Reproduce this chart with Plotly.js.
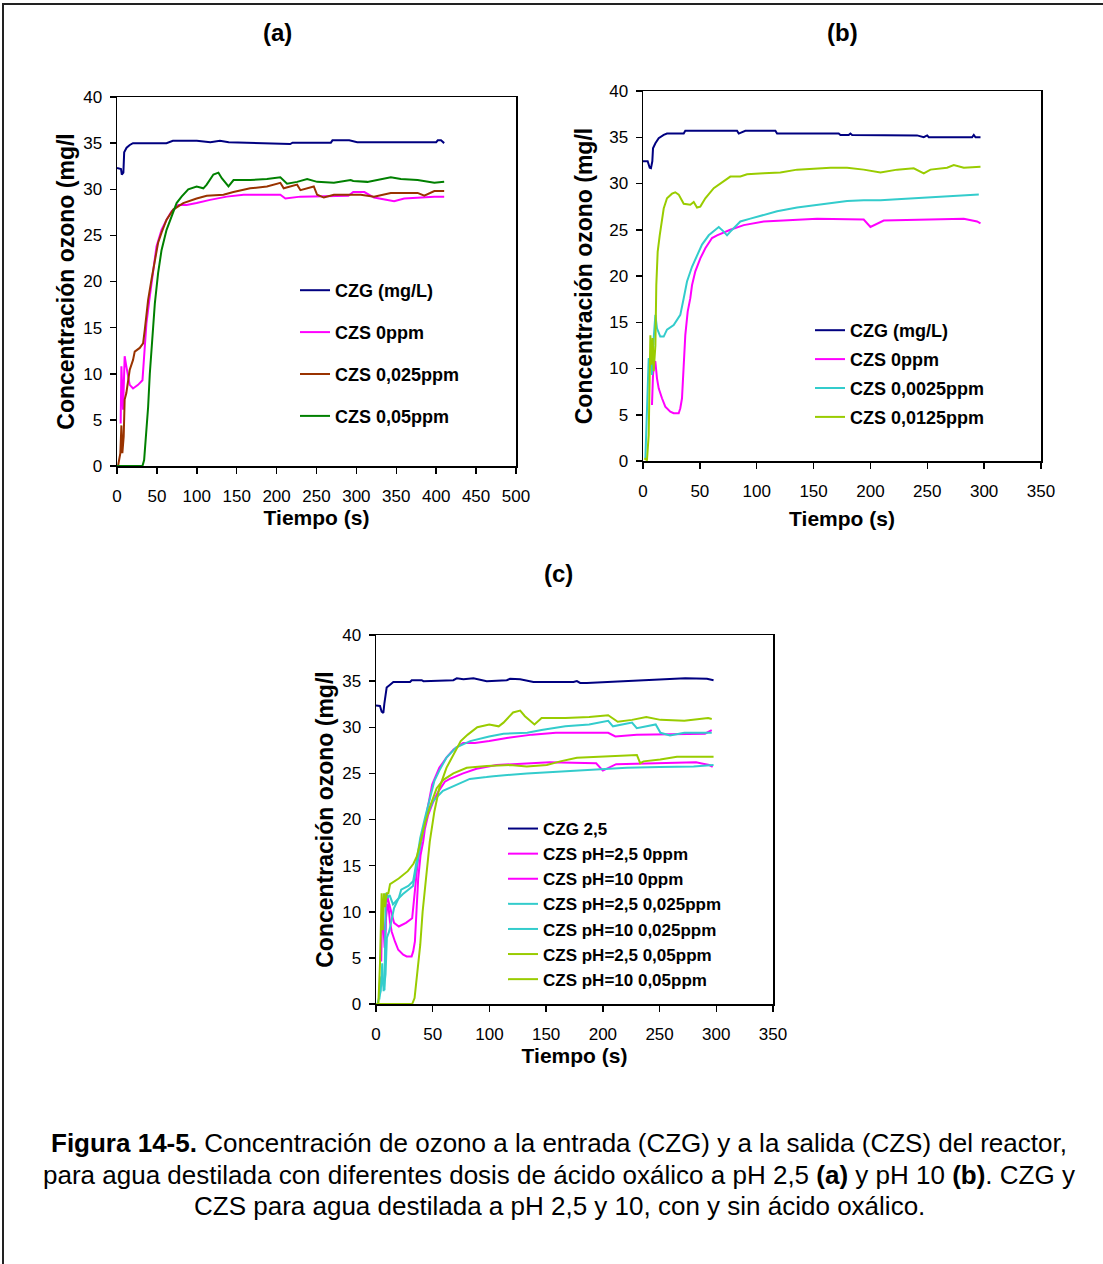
<!DOCTYPE html>
<html>
<head>
<meta charset="utf-8">
<script src="https://cdn.plot.ly/plotly-3.0.1.min.js"></script>
<style>
html,body{margin:0;padding:0;background:#fff;}
#chart{width:1103px;height:1264px;}
</style>
</head>
<body>
<div id="chart"></div>
<script>
// ---------------- DATA ----------------
// Panel (a): pH 2,5
const a_czg_t = [0, 5, 6, 8, 9, 12, 16, 20, 62, 70, 100, 117, 129, 140, 217, 220, 268, 270, 291, 301, 400, 402, 406, 410];
const a_czg_c = [32.3, 32.2, 31.6, 31.8, 34.0, 34.5, 34.8, 35.0, 35.0, 35.25, 35.25, 35.1, 35.25, 35.1, 34.9, 35.05, 35.05, 35.3, 35.3, 35.1, 35.1, 35.3, 35.3, 35.0];

const a_0_t = [4.6, 5.5, 7.6, 9.6, 11.7, 13.8, 15.9, 20.1, 26.4, 31.9, 34.8, 36.9, 41.1, 45.3, 49.5, 55.8, 62.1, 68.4, 76.8, 87.2, 99.8, 116.6, 137.6, 158.6, 204.7, 211, 229.9, 290, 296, 310, 322.1, 347.3, 359.9, 397.7, 410];
const a_0_c = [4.6, 10.8, 6.1, 11.9, 10.8, 9.7, 8.8, 8.4, 8.8, 9.3, 12.9, 15.5, 18.4, 21.3, 23.8, 25.6, 26.7, 27.6, 28.3, 28.3, 28.5, 28.85, 29.2, 29.4, 29.4, 29.0, 29.2, 29.3, 29.7, 29.7, 29.1, 28.7, 29.0, 29.2, 29.2];

const a_025_t = [1.3, 4.2, 5.5, 6.7, 8.4, 9.6, 11.7, 15.9, 20.1, 22.2, 28.5, 32.7, 34.8, 39.0, 43.2, 47.4, 51.5, 55.8, 62.1, 70.5, 83.0, 99.8, 112.4, 133.4, 145.9, 166.9, 187.9, 204.7, 208.9, 225.7, 229.9, 246.6, 250.8, 259.2, 271.8, 296, 305.4, 322.1, 343.1, 376.7, 385.1, 397.7, 410];
const a_025_c = [0, 1.4, 4.4, 1.4, 3.2, 7.2, 7.9, 10.4, 11.5, 12.4, 12.8, 13.3, 14.75, 18.0, 20.2, 22.3, 24.2, 25.3, 26.7, 27.8, 28.5, 29.0, 29.3, 29.4, 29.7, 30.1, 30.3, 30.7, 30.1, 30.5, 29.9, 30.3, 29.4, 29.1, 29.4, 29.4, 29.4, 29.2, 29.6, 29.6, 29.3, 29.8, 29.8];

const a_05_t = [0, 31.9, 34.0, 36.1, 39.0, 41.1, 44.5, 47.4, 51.5, 55.8, 62.1, 68.4, 74.7, 80.9, 89.3, 99.8, 108.2, 112.4, 120.8, 127.1, 131.3, 139.7, 146.0, 166.9, 187.9, 204.7, 213.1, 225.7, 238.3, 250.8, 271.8, 292.8, 296, 313.8, 343.1, 355.7, 376.7, 397.7, 410];
const a_05_c = [0, 0, 0.65, 2.8, 6.4, 10.0, 14.0, 17.6, 20.9, 23.4, 25.6, 27.0, 28.5, 29.2, 30.0, 30.3, 30.1, 30.5, 31.6, 31.8, 31.2, 30.3, 31.0, 31.0, 31.1, 31.3, 30.6, 30.8, 31.1, 30.8, 30.7, 31.0, 30.9, 30.8, 31.3, 31.1, 31.0, 30.7, 30.8];

// Panel (b): pH 10
const b_czg_t = [0, 4.1, 5.9, 7.0, 8.2, 8.8, 10.9, 13.8, 18.2, 21.1, 35.8, 37.2, 82.7, 84.2, 90, 116.4, 117.9, 172.1, 173.6, 180.9, 182.4, 183.9, 241, 246.9, 249.9, 251.3, 289.4, 290.9, 292.4, 296.8];
const b_czg_c = [32.4, 32.4, 31.7, 31.65, 32.4, 33.8, 34.35, 34.9, 35.25, 35.4, 35.4, 35.7, 35.7, 35.4, 35.7, 35.7, 35.4, 35.4, 35.25, 35.25, 35.4, 35.25, 35.2, 35.0, 35.2, 35.0, 35.0, 35.25, 35.0, 35.0];

const b_0_t = [7.9, 8.8, 10.0, 10.9, 12.3, 13.8, 16.7, 19.6, 24.0, 27.0, 31.4, 32.8, 34.3, 35.8, 37.2, 39.3, 41.6, 43.1, 46.0, 50.4, 54.8, 60.7, 65.1, 76.8, 88.6, 106.2, 135.5, 153.1, 194.1, 198.5, 200, 211.7, 252.8, 282.1, 293.8, 296.8];
const b_0_c = [6.06, 9.3, 10.74, 10.7, 8.94, 7.86, 6.78, 5.88, 5.34, 5.16, 5.16, 5.7, 6.78, 10.74, 13.6, 16.15, 17.6, 19.0, 20.5, 21.9, 23.0, 24.1, 24.4, 25.0, 25.5, 25.9, 26.1, 26.2, 26.1, 25.5, 25.3, 26.0, 26.1, 26.2, 25.9, 25.7];

const b_0025_t = [2.1, 3.5, 5.0, 6.5, 7.9, 9.4, 10.9, 12.3, 15.2, 18.2, 21.1, 27.0, 32.8, 35.8, 38.7, 43.1, 47.5, 51.9, 57.8, 66.6, 71.0, 73.9, 76.8, 85.6, 94.4, 106.2, 117.9, 135.5, 153.1, 164.8, 179.5, 194.1, 208.8, 223.5, 238.1, 252.8, 267.4, 282.1, 295.3];
const b_0025_c = [0.29, 4.97, 11.1, 10.74, 9.3, 13.27, 15.8, 14.35, 13.45, 13.45, 14.2, 14.7, 15.8, 17.6, 19.4, 21.0, 22.3, 23.4, 24.4, 25.3, 24.8, 24.4, 24.8, 25.9, 26.2, 26.6, 27.0, 27.4, 27.7, 27.9, 28.1, 28.2, 28.2, 28.3, 28.4, 28.5, 28.6, 28.7, 28.8];

const b_0125_t = [1.2, 3.5, 5.0, 5.9, 6.5, 7.3, 8.5, 9.4, 10.9, 11.7, 12.9, 14.7, 16.7, 18.2, 21.1, 25.5, 28.4, 31.4, 35.8, 41.6, 44.6, 47.5, 50.4, 54.8, 62.2, 71.0, 76.8, 85.6, 91.5, 106.2, 120.8, 135.5, 150.1, 164.8, 179.5, 194.1, 208.8, 223.5, 238.1, 246.9, 252.8, 267.4, 273.3, 282.1, 296.8];
const b_0125_c = [0.29, 0.1, 2.8, 10.0, 13.6, 10.4, 13.3, 9.7, 12.5, 19.0, 22.6, 24.4, 25.9, 27.3, 28.4, 28.9, 29.05, 28.8, 27.8, 27.7, 28.0, 27.4, 27.5, 28.4, 29.5, 30.2, 30.75, 30.75, 31.0, 31.1, 31.2, 31.5, 31.6, 31.7, 31.7, 31.5, 31.2, 31.5, 31.65, 31.1, 31.5, 31.7, 32.0, 31.7, 31.8];

// Panel (c): pH 2,5 and pH 10
const c_czg_t = [0, 3.5, 5, 6.5, 7.4, 8.5, 9.4, 12.4, 15.3, 30, 31.5, 40.3, 41.8, 68.2, 71.2, 77.1, 85.9, 97.6, 115.3, 118.2, 127.1, 138.8, 174.1, 177.1, 180, 185.9, 221.2, 268.2, 272.6, 291.8, 297.6];
const c_czg_c = [32.35, 32.3, 31.7, 31.55, 32.6, 33.7, 34.3, 34.6, 34.9, 34.9, 35.1, 35.1, 35.0, 35.1, 35.3, 35.2, 35.3, 35.0, 35.1, 35.25, 35.2, 34.9, 34.9, 35.0, 34.8, 34.8, 35.0, 35.2, 35.3, 35.25, 35.1];

const c_10_025_t = [3.0, 3.5, 5.0, 7.5, 8.6, 10, 12, 15, 18, 23.5, 32.6, 35.5, 40, 44.4, 50.3, 59, 71, 82.7, 97.4, 103.5, 133, 162, 192, 221, 250, 280, 297.6];
const c_10_025_c = [0.5, 2.5, 3.0, 1.5, 12.0, 11.5, 11.8, 10.8, 11.2, 11.9, 12.8, 14.8, 17.8, 20.3, 22.0, 23.1, 23.8, 24.4, 24.6, 24.7, 25.0, 25.2, 25.4, 25.6, 25.7, 25.75, 25.9];

const c_10_05_t = [2.1, 3.5, 5.0, 5.9, 7.1, 7.9, 9.4, 10.9, 12.4, 20, 28, 33, 36, 38.8, 43.2, 47.6, 53.5, 59.4, 68.2, 80, 97.6, 118.2, 132.9, 150.6, 162.4, 177.1, 191.8, 230, 232.9, 235.9, 250.6, 265.3, 280, 297.6];
const c_10_05_c = [0, 4.35, 12.0, 8.0, 12.0, 10.5, 12.0, 12.0, 13.0, 13.6, 14.4, 15.2, 16.0, 17.4, 19.6, 21.4, 23.4, 24.3, 25.0, 25.6, 25.8, 25.9, 25.75, 25.9, 26.3, 26.7, 26.8, 27.0, 26.1, 26.3, 26.5, 26.8, 26.8, 26.8];

const xTitle = 'Tiempo (s)';
const yTitle = 'Concentración ozono (mg/l';
const panelTitles = ['(a)', '(b)', '(c)'];
const namesA = ['CZG (mg/L)', 'CZS 0ppm', 'CZS 0,025ppm', 'CZS 0,05ppm'];
const namesB = ['CZG (mg/L)', 'CZS 0ppm', 'CZS 0,0025ppm', 'CZS 0,0125ppm'];
const namesC = ['CZG 2,5', 'CZS pH=2,5 0ppm', 'CZS pH=10 0ppm', 'CZS pH=2,5 0,025ppm', 'CZS pH=10 0,025ppm', 'CZS pH=2,5 0,05ppm', 'CZS pH=10 0,05ppm'];
const captionLines = [
  '<b>Figura 14-5.</b> Concentración de ozono a la entrada (CZG) y a la salida (CZS) del reactor,',
  'para agua destilada con diferentes dosis de ácido oxálico a pH 2,5 <b>(a)</b> y pH 10 <b>(b)</b>. CZG y',
  'CZS para agua destilada a pH 2,5 y 10, con y sin ácido oxálico.'
];

// ---------------- STYLE ----------------
const W = 1103, H = 1264;
const FONT = 'Liberation Sans, Arial, Helvetica, sans-serif';
const NAVY = '#000080', MAG = '#FF00FF', BROWN = '#993300', GREEN = '#008000', CYAN = '#33CCCC', YG = '#99CC00';
const LW = 2;

function px(x) { return x / W; }
function py(y) { return 1 - y / H; }

function upTo(t, c, tmax) {
  const tt = [], cc = [];
  for (let i = 0; i < t.length; i++) if (t[i] <= tmax) { tt.push(t[i]); cc.push(c[i]); }
  return [tt, cc];
}

function tr(t, c, name, color, xa, ya, leg, grp) {
  return {
    type: 'scatter', mode: 'lines', x: t, y: c, name: name,
    line: { color: color, width: LW },
    xaxis: xa, yaxis: ya, legend: leg, legendgroup: grp, showlegend: true,
    hoverinfo: 'skip'
  };
}

const traces = [];
traces.push(tr(a_czg_t, a_czg_c, namesA[0], NAVY, 'x', 'y', 'legend', 'a0'));
traces.push(tr(a_0_t, a_0_c, namesA[1], MAG, 'x', 'y', 'legend', 'a1'));
traces.push(tr(a_025_t, a_025_c, namesA[2], BROWN, 'x', 'y', 'legend', 'a2'));
traces.push(tr(a_05_t, a_05_c, namesA[3], GREEN, 'x', 'y', 'legend', 'a3'));

traces.push(tr(b_czg_t, b_czg_c, namesB[0], NAVY, 'x2', 'y2', 'legend2', 'b0'));
traces.push(tr(b_0_t, b_0_c, namesB[1], MAG, 'x2', 'y2', 'legend2', 'b1'));
traces.push(tr(b_0025_t, b_0025_c, namesB[2], CYAN, 'x2', 'y2', 'legend2', 'b2'));
traces.push(tr(b_0125_t, b_0125_c, namesB[3], YG, 'x2', 'y2', 'legend2', 'b3'));

const c25_0 = upTo(a_0_t, a_0_c, 297);
const c25_025 = upTo(a_025_t, a_025_c, 297);
const c25_05 = upTo(a_05_t, a_05_c, 297);
traces.push(tr(c_czg_t, c_czg_c, namesC[0], NAVY, 'x3', 'y3', 'legend3', 'c0'));
traces.push(tr(c25_0[0], c25_0[1], namesC[1], MAG, 'x3', 'y3', 'legend3', 'c1'));
traces.push(tr(b_0_t, b_0_c, namesC[2], MAG, 'x3', 'y3', 'legend3', 'c2'));
traces.push(tr(c25_025[0], c25_025[1], namesC[3], CYAN, 'x3', 'y3', 'legend3', 'c3'));
traces.push(tr(c_10_025_t, c_10_025_c, namesC[4], CYAN, 'x3', 'y3', 'legend3', 'c4'));
traces.push(tr(c25_05[0], c25_05[1], namesC[5], YG, 'x3', 'y3', 'legend3', 'c5'));
traces.push(tr(c_10_05_t, c_10_05_c, namesC[6], YG, 'x3', 'y3', 'legend3', 'c6'));

function xAxis(x0, x1, range, anchor, standoff) {
  return {
    domain: [px(x0), px(x1)], range: range, dtick: 50, tick0: 0, anchor: anchor,
    showline: true, mirror: true, linecolor: '#000', linewidth: 1.5,
    ticks: 'outside', ticklen: 6, tickwidth: 1.5, tickcolor: '#000',
    showgrid: false, zeroline: false, fixedrange: true,
    tickfont: { family: FONT, size: 17, color: '#000' }, ticklabelstandoff: 8,
    title: { text: xTitle, font: { family: FONT, size: 21, color: '#000', weight: 'bold' }, standoff: standoff }
  };
}
function yAxis(y0, y1, anchor, standoff) {
  return {
    domain: [py(y1), py(y0)], range: [0, 40], dtick: 5, tick0: 0, anchor: anchor,
    showline: true, mirror: true, linecolor: '#000', linewidth: 1.5,
    ticks: 'outside', ticklen: 6, tickwidth: 1.5, tickcolor: '#000',
    showgrid: false, zeroline: false, fixedrange: true,
    tickfont: { family: FONT, size: 17, color: '#000' }, ticklabelstandoff: 4,
    title: { text: yTitle, font: { family: FONT, size: 23, color: '#000', weight: 'bold' }, standoff: standoff }
  };
}
function legendAt(xl, ytop, gap, fsize) {
  return {
    x: px(xl), y: py(ytop), xanchor: 'left', yanchor: 'top',
    bgcolor: 'rgba(0,0,0,0)', borderwidth: 0,
    font: { family: FONT, size: fsize, color: '#000', weight: 'bold' },
    tracegroupgap: gap, itemwidth: 30, traceorder: 'grouped'
  };
}

function title(txt, x, y) {
  return { text: '<b>' + txt + '</b>', x: px(x), y: py(y), xref: 'paper', yref: 'paper', xanchor: 'center', yanchor: 'middle', showarrow: false, font: { family: FONT, size: 24, color: '#000' } };
}
const annotations = [title(panelTitles[0], 277, 32), title(panelTitles[1], 842, 32), title(panelTitles[2], 558, 573)];
const capY = [1143, 1175, 1206];
captionLines.forEach(function (s, i) {
  annotations.push({ text: s, x: px(559), y: py(capY[i]), xref: 'paper', yref: 'paper', showarrow: false, xanchor: 'center', yanchor: 'middle', font: { family: FONT, size: 26, color: '#000' } });
});

const layout = {
  width: W, height: H,
  margin: { l: 0, r: 0, t: 0, b: 0, pad: 0 },
  paper_bgcolor: '#fff', plot_bgcolor: '#fff',
  font: { family: FONT, color: '#000' },
  xaxis: xAxis(117, 516, [0, 500], 'y', 5),
  yaxis: yAxis(97, 466, 'x', 2),
  xaxis2: xAxis(643, 1041, [0, 350], 'y2', 11),
  yaxis2: yAxis(91, 461, 'x2', 10),
  xaxis3: xAxis(376, 773, [0, 350], 'y3', 5),
  yaxis3: yAxis(635, 1004, 'x3', 2),
  legend: legendAt(295, 272, 15.5, 18),
  legend2: legendAt(810, 312, 2.5, 18),
  legend3: legendAt(503, 811, 0, 17),
  annotations: annotations,
  shapes: [{ type: 'rect', xref: 'paper', yref: 'paper', x0: px(3), x1: 1.02, y0: -0.02, y1: py(4), line: { color: '#222', width: 2 }, fillcolor: 'rgba(0,0,0,0)' }],
  showlegend: true
};

Plotly.newPlot('chart', traces, layout, { displayModeBar: false, staticPlot: true });
</script>
</body>
</html>
